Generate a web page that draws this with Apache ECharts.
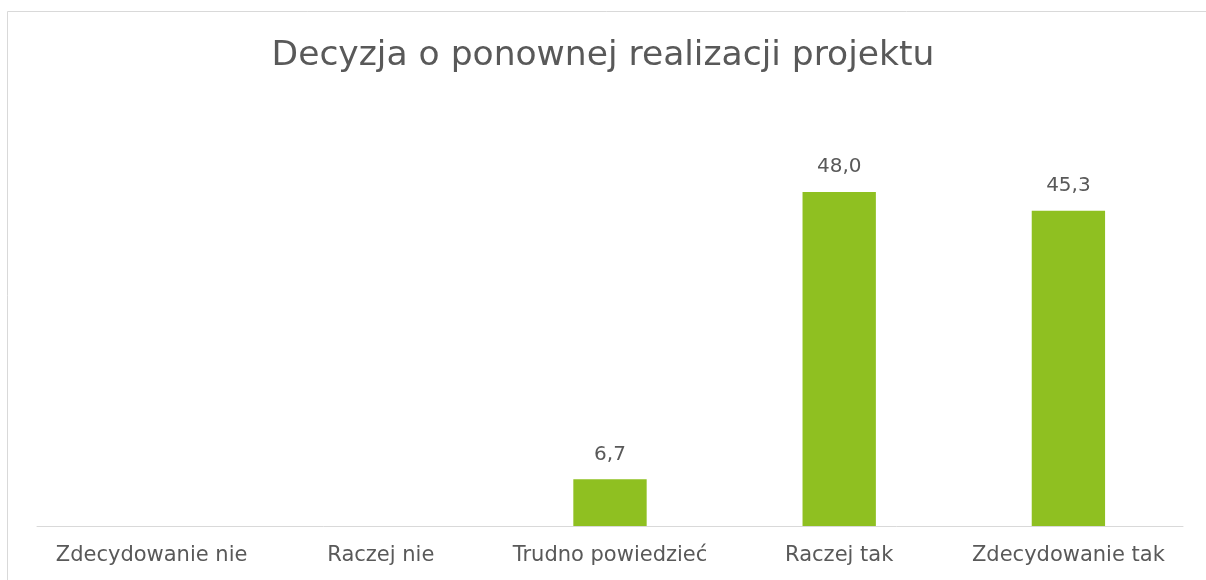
<!DOCTYPE html>
<html>
<head>
<meta charset="utf-8">
<script src="https://cdn.jsdelivr.net/npm/echarts@6/dist/echarts.min.js"></script>
<style>
html, body { margin: 0; padding: 0; background: #fff; }
#chart { width: 1206px; height: 580px; }
</style>
</head>
<body>
<div id="chart"></div>
<script>
var titleText = 'Decyzja o ponownej realizacji projektu'
var categories = ['Zdecydowanie nie', 'Raczej nie', 'Trudno powiedzieć', 'Raczej tak', 'Zdecydowanie tak']
var values = [0, 0, 6.7, 48.0, 45.3]

var chart = echarts.init(document.getElementById('chart'))
chart.setOption({
  backgroundColor: '#fff',
  animation: false,
  textStyle: { fontFamily: 'DejaVu Sans' },
  graphic: [
    { type: 'line', shape: { x1: 7.5, y1: 11.5, x2: 1206, y2: 11.5 }, style: { stroke: '#d9d9d9', lineWidth: 1 } },
    { type: 'line', shape: { x1: 7.5, y1: 11.5, x2: 7.5, y2: 580 }, style: { stroke: '#d9d9d9', lineWidth: 1 } }
  ],
  title: {
    text: titleText,
    left: 'center',
    top: 34,
    textStyle: { color: '#595959', fontSize: 34.5, fontWeight: 'normal', fontFamily: 'DejaVu Sans' }
  },
  grid: { left: 37, right: 23, top: 178, bottom: 54, containLabel: false },
  xAxis: {
    type: 'category',
    data: categories,
    axisLine: { lineStyle: { color: '#d9d9d9', width: 1 } },
    axisTick: { show: false },
    axisLabel: { color: '#595959', fontSize: 21, margin: 19, interval: 0 }
  },
  yAxis: {
    type: 'value',
    min: 0,
    max: 50,
    show: false
  },
  series: [{
    type: 'bar',
    data: values,
    barWidth: '32%',
    itemStyle: { color: '#8fc021' },
    label: {
      show: true,
      position: 'top',
      distance: 15,
      color: '#595959',
      fontSize: 20,
      formatter: function (p) { return p.value > 0 ? p.value.toFixed(1).replace('.', ',') : '' }
    }
  }]
})
</script>
</body>
</html>
